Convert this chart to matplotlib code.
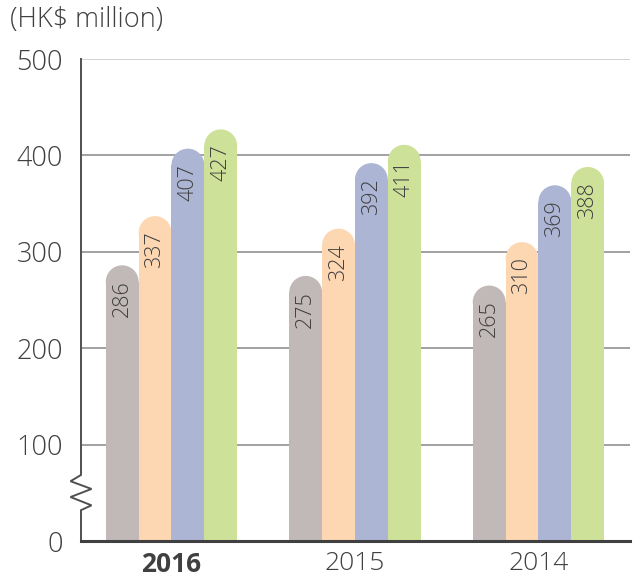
import numpy as np
import matplotlib
matplotlib.use("Agg")
import matplotlib.pyplot as plt
from matplotlib.patches import Ellipse

plt.rcParams['font.family'] = ['Open Sans', 'DejaVu Sans']

# data (HK$ million)
years = ['2016', '2015', '2014']
series_values = [
    [286, 275, 265],
    [337, 324, 310],
    [407, 392, 369],
    [427, 411, 388],
]
bar_colors = ['#c1b9b7', '#fdd6b2', '#adb5d5', '#cde198']
y_ticks = [0, 100, 200, 300, 400, 500]

text_color = '#404040'
light = 'light'

fig = plt.figure(figsize=(6.33, 5.81), dpi=100)
ax = fig.add_axes([81 / 633, 40 / 581, 549 / 633, 482 / 581])

n_series = len(series_values)
width = 0.179
x = np.arange(len(years))

ax.set_xlim(-0.493, 2.499)
ax.set_ylim(0, 500)

# size of the rounded cap in data units (semicircle in pixels)
p0 = ax.transData.transform((0, 0))
p1 = ax.transData.transform((width, 100))
px_per_x = (p1[0] - p0[0]) / width
px_per_y = (p1[1] - p0[1]) / 100
cap_r_px = width * px_per_x / 2
cap_ry = cap_r_px / px_per_y

for i, vals in enumerate(series_values):
    offs = (i - (n_series - 1) / 2) * width
    for xi, v in zip(x, vals):
        cx = xi + offs
        ax.bar(cx, v - cap_ry, width, color=bar_colors[i], linewidth=0, zorder=3)
        ax.add_patch(Ellipse((cx, v - cap_ry), width, 2 * cap_ry,
                             facecolor=bar_colors[i], edgecolor='none', zorder=3))
        ax.annotate(str(v), (cx, v), xytext=(0, -15), textcoords='offset pixels',
                    rotation=90, ha='center', va='top', fontsize=15.5,
                    fontweight=light, color=text_color, zorder=4)

# gridlines
for t in y_ticks[1:-1]:
    ax.axhline(t, color='#9a9a9a', linewidth=1.3, zorder=1)
ax.axhline(500, color='#cfcfcf', linewidth=1.3, zorder=1)

# spines
for s in ['top', 'right', 'left']:
    ax.spines[s].set_visible(False)
ax.spines['bottom'].set_color('#404040')
ax.spines['bottom'].set_linewidth(2.2)
ax.spines['bottom'].set_zorder(5)

# left axis with break zigzag
ytr = ax.get_yaxis_transform()
dx = 10.5 / (549)
zz_x = [0, 0, -dx, dx, -dx, dx, 0, 0]
zz_y = [500, 68.5, 62, 54, 45.6, 37, 32, 0]
ax.plot(zz_x, zz_y, transform=ytr, color='#505050', linewidth=1.4,
        clip_on=False, zorder=5, solid_joinstyle='miter')

ax.set_yticks(y_ticks)
ax.set_yticklabels([str(t) for t in y_ticks], fontweight=light)
ax.tick_params(axis='y', length=0, pad=13, labelsize=19.5, labelcolor=text_color)

ax.set_xticks(x)
ax.set_xticklabels(years, fontweight=light)
ax.tick_params(axis='x', length=0, pad=7, labelsize=19, labelcolor=text_color)
ax.get_xticklabels()[0].set_fontweight('bold')

fig.text(10 / 633, 1 - 6 / 581, '(HK$ million)', ha='left', va='top',
         fontsize=19.5, fontweight=light, color=text_color)

fig.savefig('out.png', dpi=100)
